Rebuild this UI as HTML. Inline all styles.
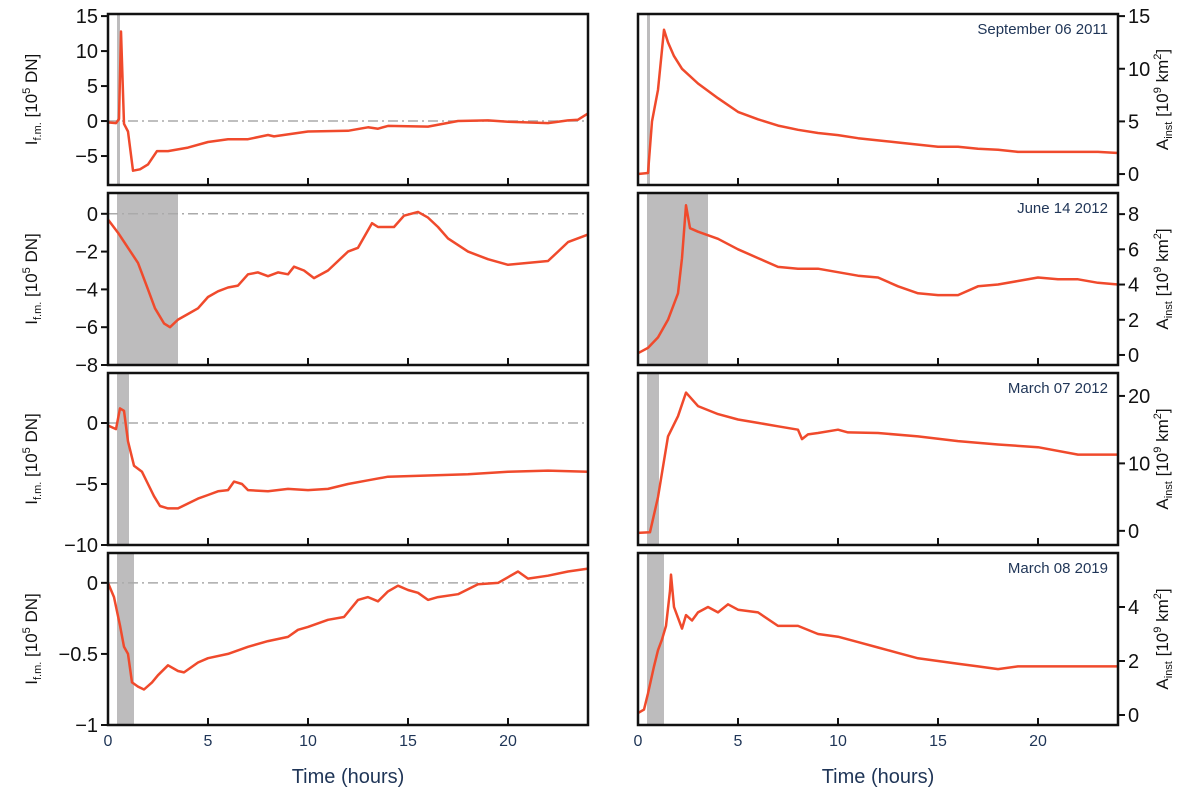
<!DOCTYPE html>
<html><head><meta charset="utf-8"><style>
body{margin:0;background:#fff;}
svg text{font-family:"Liberation Sans",sans-serif;}
</style></head><body>
<svg id="c" width="1200" height="797" xmlns="http://www.w3.org/2000/svg"></svg>
<script>
const hoursMax = 24;
const titles = ["September 06 2011","June 14 2012","March 07 2012","March 08 2019"];
const shadeStart = [0.45,0.45,0.45,0.45];
const shadeEnd = [0.6,3.5,1.05,1.3];
const leftTicks = [[15,10,5,0,-5],[0,-2,-4,-6,-8],[0,-5,-10],[0,-0.5,-1]];
const leftTickLabels = [["15","10","5","0","−5"],["0","−2","−4","−6","−8"],["0","−5","−10"],["0","−0.5","−1"]];
const rightTicks = [[0,5,10,15],[0,2,4,6,8],[0,10,20],[0,2,4]];
const leftRange = [[-9.14,15.3],[-8,1.1],[-10,4.1],[-1,0.21]];
const rightRange = [[-1.04,15.2],[-0.57,9.2],[-2.1,23.4],[-0.37,6.0]];
const xTicks = [0,5,10,15,20];
const fmLeft = [
[[0,-0.2],[0.4,-0.3],[0.55,0.3],[0.65,12.8],[0.8,-0.4],[1,-1.5],[1.25,-7.1],[1.6,-6.9],[2,-6.2],[2.45,-4.3],[3,-4.3],[4,-3.8],[5,-3.0],[6,-2.6],[7,-2.6],[8,-2.0],[8.3,-2.2],[10,-1.5],[12,-1.4],[13,-0.9],[13.5,-1.1],[14,-0.7],[16,-0.8],[17.5,0],[19,0.1],[20,-0.1],[22,-0.3],[23,0.1],[23.5,0.2],[24,1.1]],
[[0,-0.3],[0.5,-1.0],[1,-1.8],[1.5,-2.6],[2,-4.0],[2.35,-5.0],[2.8,-5.8],[3.1,-6.0],[3.5,-5.6],[4,-5.3],[4.5,-5.0],[5,-4.4],[5.5,-4.1],[6,-3.9],[6.5,-3.8],[7,-3.2],[7.5,-3.1],[8,-3.3],[8.5,-3.1],[9,-3.2],[9.3,-2.8],[9.8,-3.0],[10.3,-3.4],[11,-3.0],[12,-2.0],[12.5,-1.8],[13.2,-0.5],[13.5,-0.7],[14.3,-0.7],[14.8,-0.1],[15.5,0.1],[16,-0.2],[16.5,-0.7],[17,-1.3],[18,-2.0],[19,-2.4],[20,-2.7],[21,-2.6],[22,-2.5],[22.5,-2.0],[23,-1.5],[24,-1.1]],
[[0,-0.2],[0.4,-0.5],[0.6,1.2],[0.8,1.0],[1,-1.5],[1.3,-3.5],[1.7,-4.0],[2,-5.0],[2.3,-6.0],[2.6,-6.8],[3,-7.0],[3.5,-7.0],[4,-6.6],[4.5,-6.2],[5,-5.9],[5.5,-5.6],[6,-5.5],[6.3,-4.8],[6.7,-5.0],[7,-5.5],[8,-5.6],[9,-5.4],[10,-5.5],[11,-5.4],[12,-5.0],[13,-4.7],[14,-4.4],[16,-4.3],[18,-4.2],[20,-4.0],[22,-3.9],[24,-4.0]],
[[0,0],[0.3,-0.1],[0.6,-0.3],[0.8,-0.45],[1,-0.5],[1.2,-0.7],[1.5,-0.73],[1.8,-0.75],[2.2,-0.7],[2.5,-0.65],[3,-0.58],[3.5,-0.62],[3.8,-0.63],[4.5,-0.56],[5,-0.53],[6,-0.5],[7,-0.45],[8,-0.41],[9,-0.38],[9.5,-0.33],[10,-0.31],[11,-0.26],[11.8,-0.24],[12.5,-0.12],[13,-0.1],[13.5,-0.13],[14,-0.06],[14.5,-0.02],[15,-0.05],[15.5,-0.07],[16,-0.12],[16.5,-0.1],[17.5,-0.08],[18.5,-0.01],[19.5,0.0],[20.5,0.08],[21,0.03],[22,0.05],[23,0.08],[24,0.1]]
];
const areaRight = [
[[0,0],[0.5,0.1],[0.7,5],[1,8],[1.3,13.7],[1.5,12.5],[1.8,11.2],[2.2,10],[3,8.6],[4,7.2],[5,5.9],[6,5.2],[7,4.6],[8,4.2],[9,3.9],[10,3.7],[11,3.4],[12,3.2],[13,3.0],[14,2.8],[15,2.6],[16,2.6],[17,2.4],[18,2.3],[19,2.1],[20,2.1],[21,2.1],[22,2.1],[23,2.1],[24,2.0]],
[[0,0.1],[0.5,0.4],[1,1],[1.5,2],[2,3.5],[2.2,5.5],[2.4,8.5],[2.6,7.2],[3,7],[4,6.6],[5,6.0],[6,5.5],[7,5.0],[8,4.9],[9,4.9],[10,4.7],[11,4.5],[12,4.4],[13,3.9],[14,3.5],[15,3.4],[16,3.4],[17,3.9],[18,4.0],[19,4.2],[20,4.4],[21,4.3],[22,4.3],[23,4.1],[24,4.0]],
[[0,-0.3],[0.6,-0.2],[1,5],[1.5,14],[2,17],[2.4,20.5],[3,18.5],[4,17.3],[5,16.5],[6,16],[7,15.5],[8,15],[8.2,13.6],[8.5,14.3],[9,14.5],[10,15],[10.5,14.6],[12,14.5],[14,14],[16,13.3],[18,12.8],[20,12.4],[22,11.3],[23,11.3],[24,11.3]],
[[0,0.07],[0.3,0.2],[0.5,0.8],[0.8,1.8],[1,2.4],[1.2,2.8],[1.4,3.3],[1.6,4.6],[1.65,5.2],[1.8,4],[2,3.6],[2.2,3.2],[2.4,3.7],[2.7,3.5],[3,3.8],[3.5,4],[4,3.8],[4.5,4.1],[5,3.9],[6,3.8],[7,3.3],[8,3.3],[9,3.0],[10,2.9],[11,2.7],[12,2.5],[13,2.3],[14,2.1],[15,2.0],[16,1.9],[17,1.8],[18,1.7],[19,1.8],[20,1.8],[22,1.8],[24,1.8]]
];
const rowTop=[14,193,373,553], rowBot=[185,365,545,725];
const svg=document.getElementById('c');
const NS="http://www.w3.org/2000/svg";
function mk(t,a,p){const e=document.createElementNS(NS,t);for(const k in a)e.setAttribute(k,a[k]);(p||svg).appendChild(e);return e;}
const navy="#1f3557";
function panel(r,side){
  const x0=side?638:108,x1=x0+480,t=rowTop[r],b=rowBot[r];
  const rng=side?rightRange[r]:leftRange[r];
  const xs=h=>x0+h/hoursMax*(x1-x0);
  const ys=v=>b-(v-rng[0])/(rng[1]-rng[0])*(b-t);
  const g=mk('g',{});
  
  
  const sh=mk('rect',{x:xs(shadeStart[r]),y:t,width:xs(shadeEnd[r])-xs(shadeStart[r]),height:b-t,fill:'#bdbcbd'},g);
  
  
  if(!side){
    const z=mk('line',{x1:x0,x2:x1,y1:ys(0),y2:ys(0),stroke:'#aaa','stroke-width':1.5,'stroke-dasharray':'10 4 2 4'},g);
    
    
  }
  const data=side?areaRight[r]:fmLeft[r];
  const p=mk('polyline',{points:data.map(d=>xs(d[0]).toFixed(1)+','+ys(d[1]).toFixed(1)).join(' '),fill:'none',stroke:'#f04a2c','stroke-width':2.5,'stroke-linejoin':'round'},g);
  
  
  const fr=mk('rect',{x:x0,y:t,width:x1-x0,height:b-t,fill:'none',stroke:'#111','stroke-width':2.5},g);
  
  
  xTicks.forEach(h=>{ if(h>0) mk('line',{x1:xs(h),x2:xs(h),y1:b,y2:b-7,stroke:'#111','stroke-width':2},g);
    if(r===3){const tx=mk('text',{x:xs(h),y:746,'font-size':16,fill:navy,'text-anchor':'middle'},g);tx.textContent=h;
      
      }});
  if(!side){
    leftTicks[r].forEach((v,i)=>{let y=ys(v);mk('line',{x1:x0,x2:x0-7,y1:y,y2:y,stroke:'#111','stroke-width':2},g);
      const tx=mk('text',{x:x0-10,y:y+7,'font-size':20,fill:'#111','text-anchor':'end'},g);tx.textContent=leftTickLabels[r][i];
      
      });
    const yl=mk('text',{transform:`translate(37,${(t+b)/2}) rotate(-90)`,'font-size':17,fill:'#111','text-anchor':'middle'},g);
    yl.innerHTML='I<tspan font-size="11" dy="4">f.m.</tspan><tspan dy="-4"> [10</tspan><tspan font-size="11" dy="-7">5</tspan><tspan dy="7"> DN]</tspan>';
    
    
  } else {
    rightTicks[r].forEach(v=>{let y=ys(v);mk('line',{x1:x1,x2:x1+7,y1:y,y2:y,stroke:'#111','stroke-width':2},g);
      const tx=mk('text',{x:x1+10,y:y+7,'font-size':20,fill:'#111'},g);tx.textContent=v;
      
      });
    const yl=mk('text',{transform:`translate(1168,${(t+b)/2}) rotate(-90)`,'font-size':17,fill:'#111','text-anchor':'middle'},g);
    yl.innerHTML='A<tspan font-size="11" dy="4">inst</tspan><tspan dy="-4"> [10</tspan><tspan font-size="11" dy="-7">9</tspan><tspan dy="7"> km</tspan><tspan font-size="11" dy="-7">2</tspan><tspan dy="7">]</tspan>';
    
    
    const ti=mk('text',{x:x1-10,y:t+20,'font-size':15,fill:navy,'text-anchor':'end'},g);ti.textContent=titles[r];
    
    
  }
}
for(let r=0;r<4;r++){panel(r,0);panel(r,1);}
[348,878].forEach(x=>{const t=mk('text',{x:x,y:783,'font-size':20,fill:navy,'text-anchor':'middle'});t.textContent='Time (hours)';
  
  });
</script>
</body></html>
